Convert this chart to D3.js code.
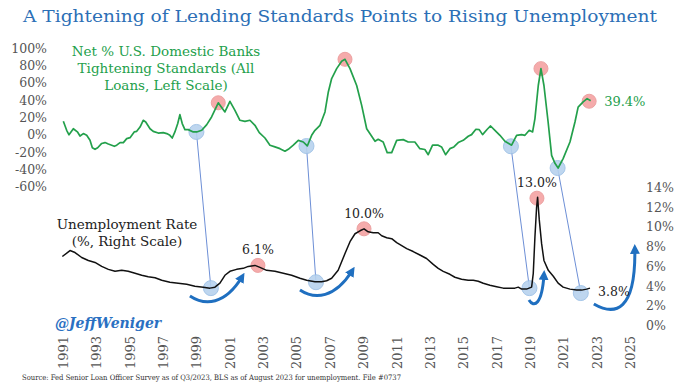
<!DOCTYPE html>
<html><head><meta charset="utf-8">
<script src="https://cdn.jsdelivr.net/npm/d3@7"></script>
<style>
body{margin:0;background:#fff;}
svg{display:block;}
</style></head>
<body>
<svg id="chart" width="680" height="383"></svg>
<script>
// ---- data (x in chart years, as plotted) ----
const tightening = [
[1991.02,15.6],[1991.22,5.2],[1991.36,0],[1991.62,7],[1991.88,3],[1992.02,-1.4],[1992.22,1.4],[1992.42,-0.6],
[1992.62,-6.4],[1992.76,-15],[1992.92,-16.8],[1993.08,-15],[1993.32,-10],[1993.52,-9],[1993.72,-10.6],[1993.92,-12],
[1994.08,-13.3],[1994.22,-12],[1994.42,-9],[1994.62,-9],[1994.82,-4.4],[1995.02,-3.3],[1995.27,3.3],[1995.42,4],
[1995.62,9],[1995.81,16.8],[1995.96,14.8],[1996.22,7],[1996.41,4],[1996.71,2],[1997.01,2.5],[1997.22,1.4],
[1997.41,-0.6],[1997.55,-3.7],[1997.71,3.3],[1997.88,13],[1998.01,23.3],[1998.15,13],[1998.31,6],[1998.51,6],
[1998.81,3.3],[1999.02,3.3],[1999.32,5.2],[1999.62,11.8],[1999.91,20.6],[2000.31,37],[2000.71,26.4],[2001.01,38.7],
[2001.31,28.3],[2001.61,16.8],[2001.91,15.6],[2002.21,16.8],[2002.51,11],[2002.77,2.5],[2003.11,-3.7],[2003.41,-12],
[2003.71,-14],[2004.01,-16],[2004.31,-19],[2004.51,-16.8],[2004.81,-12],[2005.11,-6.4],[2005.41,-8.3],[2005.65,-12.9],
[2005.91,-0.6],[2006.11,5.2],[2006.41,11],[2006.71,26.4],[2006.91,49.5],[2007.11,65],[2007.41,76.5],[2007.71,85],
[2007.91,87.3],[2008.21,76.5],[2008.61,57],[2008.91,34],[2009.21,7],[2009.71,-7.5],[2009.90,-5.2],[2010.20,-8.3],
[2010.44,-20.6],[2010.71,-20.6],[2011.01,-6.4],[2011.40,-5.6],[2011.70,-8.3],[2012.10,-8.3],[2012.40,-16],[2012.70,-17],
[2012.90,-23],[2013.16,-12],[2013.50,-12],[2013.70,-14],[2013.94,-23],[2014.20,-16],[2014.44,-14],[2014.70,-9],
[2015.00,-6.4],[2015.30,-1.7],[2015.50,0.2],[2015.76,6.4],[2015.96,6],[2016.16,0.2],[2016.44,6.4],[2016.64,10.2],
[2016.90,5.2],[2017.20,-0.6],[2017.50,-7.5],[2017.90,-12],[2018.20,-0.6],[2018.50,0.2],[2018.70,-0.6],[2018.96,5.2],
[2019.16,3.3],[2019.30,18.7],[2019.50,57],[2019.66,76.5],[2019.84,57],[2020.09,14.8],[2020.30,-23.7],[2020.50,-33],
[2020.69,-38.4],[2020.99,-27.5],[2021.40,-8.3],[2021.70,14.8],[2021.89,32],[2022.19,38],[2022.43,41.8],[2022.64,39.4]
];
const unemployment = [
[1990.96,7.0],[1991.42,7.6],[1991.72,7.4],[1992.12,6.9],[1992.52,6.6],[1992.92,6.4],[1993.32,6.0],[1993.72,5.7],
[1994.12,5.5],[1994.52,5.6],[1994.91,5.5],[1995.32,5.3],[1995.72,5.1],[1996.11,4.95],[1996.52,4.85],[1996.92,4.6],
[1997.41,4.4],[1997.91,4.3],[1998.42,4.2],[1998.91,4.0],[1999.41,3.9],[1999.81,3.8],[2000.11,3.9],[2000.41,4.3],
[2000.71,5.1],[2001.01,5.5],[2001.41,5.7],[2001.81,5.8],[2002.11,6.0],[2002.51,6.1],[2002.81,5.9],[2003.21,5.6],
[2003.71,5.5],[2004.21,5.3],[2004.71,5.1],[2005.21,4.8],[2005.61,4.6],[2006.11,4.45],[2006.51,4.45],[2006.81,4.55],
[2007.11,4.8],[2007.50,5.6],[2007.91,7.3],[2008.21,8.5],[2008.51,9.3],[2008.81,9.6],[2009.05,9.8],[2009.30,9.5],
[2009.60,9.4],[2009.90,9.4],[2010.11,9.1],[2010.41,8.9],[2010.71,8.8],[2011.01,8.4],[2011.31,8.1],[2011.61,7.8],
[2012.00,7.5],[2012.40,7.15],[2012.80,6.8],[2013.20,6.2],[2013.50,5.8],[2013.80,5.5],[2014.20,5.2],[2014.50,4.9],
[2014.90,4.7],[2015.30,4.6],[2015.60,4.6],[2015.90,4.5],[2016.20,4.3],[2016.60,4.1],[2017.00,3.95],[2017.40,3.8],
[2017.80,3.8],[2018.10,3.8],[2018.30,3.9],[2018.50,3.7],[2018.80,3.7],[2019.10,3.9],[2019.20,5.3],[2019.30,9.0],
[2019.40,12.0],[2019.46,13.0],[2019.56,10.7],[2019.70,8.3],[2019.84,6.6],[2020.10,5.6],[2020.40,5.0],[2020.69,4.3],
[2020.99,3.9],[2021.40,3.7],[2021.80,3.6],[2022.10,3.6],[2022.40,3.7],[2022.60,3.8]
];
const yearTicks = d3.range(1991, 2026, 2);
const leftTicks = [-60,-40,-20,0,20,40,60,80,100];
const rightTicks = [0,2,4,6,8,10,12,14];

// annotations
const greenPeaks = [[2000.31,37],[2007.91,87.3],[2019.66,76.5],[2022.55,38.8]];
const unempPeaks = [[2002.69,6.1,"6.1%"],[2009.05,9.8,"10.0%"],[2019.42,12.9,"13.0%"]];
const greenTroughs = [[1999.0,3.3],[2005.6,-13],[2017.86,-13.3],[2020.66,-38.4]];
const unempTroughs = [[1999.87,3.8],[2006.17,4.4],[2018.97,3.8],[2022.05,3.3]];
const arrows = [
  [[1998.61,3.0],[1999.51,2.0],[2000.71,2.09],[2001.73,4.92]],
  [[2005.21,3.61],[2006.11,2.6],[2007.31,2.8],[2008.33,5.53]],
  [[2018.94,2.6],[2019.24,1.79],[2019.72,2.09],[2019.84,5.13]],
  [[2022.83,2.2],[2024.09,0.98],[2025.35,1.39],[2025.29,7.76]]
];

const svg = d3.select("#chart");
const serif = "'DejaVu Serif', serif";
const GREEN = "#23a04b", BLUE = "#1f6fc0", TITLE = "#2c6fb6", GREY = "#555";

const x = d3.scaleLinear().domain([1991, 2025]).range([63, 630]);
const yL = d3.scaleLinear().domain([-60, 100]).range([186.7, 48.3]);
const yR = d3.scaleLinear().domain([0, 14]).range([325.7, 187.3]);

// title
svg.append("text").attr("x", 340).attr("y", 22).attr("text-anchor", "middle")
  .attr("font-family", serif).attr("font-size", 17.5).attr("fill", TITLE)
  .attr("textLength", 634).attr("lengthAdjust", "spacingAndGlyphs")
  .text("A Tightening of Lending Standards Points to Rising Unemployment");

// left axis
const gL = svg.append("g").attr("transform", "translate(47,0)")
  .call(d3.axisLeft(yL).tickValues(leftTicks).tickSize(0).tickPadding(0).tickFormat(d => d + "%"));
gL.select(".domain").remove();
gL.selectAll("text").attr("font-family", serif).attr("font-size", 12.5).attr("fill", GREY);

// right axis
const gR = svg.append("g").attr("transform", "translate(646,0)")
  .call(d3.axisRight(yR).tickValues(rightTicks).tickSize(0).tickPadding(0).tickFormat(d => d + "%"));
gR.select(".domain").remove();
gR.selectAll("text").attr("font-family", serif).attr("font-size", 12.5).attr("fill", GREY);

// x axis (rotated labels)
const gX = svg.append("g").attr("transform", "translate(0,336)")
  .call(d3.axisBottom(x).tickValues(yearTicks).tickSize(0).tickFormat(d3.format("d")));
gX.select(".domain").remove();
gX.selectAll("text").attr("font-family", serif).attr("font-size", 13).attr("fill", GREY)
  .attr("y", 0).attr("dy", null).attr("dominant-baseline", "central")
  .attr("text-anchor", "end").attr("transform", "rotate(-90)");

// connectors
svg.append("g").selectAll("line").data(greenTroughs).join("line")
  .attr("x1", d => x(d[0])).attr("y1", d => yL(d[1]))
  .attr("x2", (d, i) => x(unempTroughs[i][0])).attr("y2", (d, i) => yR(unempTroughs[i][1]))
  .attr("stroke", "#6d8fd6").attr("stroke-width", 1);

// circles
const circ = svg.append("g");
circ.selectAll(".gp").data(greenPeaks).join("circle").attr("class","gp")
  .attr("cx", d => x(d[0])).attr("cy", d => yL(d[1])).attr("r", 7)
  .attr("fill", "#f4a3a3").attr("stroke", "#eb9898").attr("opacity", 0.9);
circ.selectAll(".up").data(unempPeaks).join("circle").attr("class","up")
  .attr("cx", d => x(d[0])).attr("cy", d => yR(d[1])).attr("r", 7)
  .attr("fill", "#f4a3a3").attr("stroke", "#eb9898").attr("opacity", 0.9);
circ.selectAll(".gt").data(greenTroughs).join("circle").attr("class","gt")
  .attr("cx", d => x(d[0])).attr("cy", d => yL(d[1])).attr("r", 7.5)
  .attr("fill", "#b7d2ee").attr("stroke", "#9cc0e6").attr("opacity", 0.9);
circ.selectAll(".ut").data(unempTroughs).join("circle").attr("class","ut")
  .attr("cx", d => x(d[0])).attr("cy", d => yR(d[1])).attr("r", 7.5)
  .attr("fill", "#b7d2ee").attr("stroke", "#9cc0e6").attr("opacity", 0.9);

// lines
svg.append("path").datum(tightening)
  .attr("d", d3.line().x(d => x(d[0])).y(d => yL(d[1])))
  .attr("fill", "none").attr("stroke", GREEN).attr("stroke-width", 1.7).attr("stroke-linejoin", "round");
svg.append("path").datum(unemployment)
  .attr("d", d3.line().x(d => x(d[0])).y(d => yR(d[1])))
  .attr("fill", "none").attr("stroke", "#111").attr("stroke-width", 1.5).attr("stroke-linejoin", "round");

// arrows
svg.append("defs").append("marker").attr("id", "ah")
  .attr("viewBox", "0 0 10 10").attr("refX", 5).attr("refY", 5)
  .attr("markerWidth", 3.3).attr("markerHeight", 3.3).attr("orient", "auto")
  .append("path").attr("d", "M0,0 L10,5 L0,10 Z").attr("fill", BLUE);
svg.append("g").selectAll("path").data(arrows).join("path")
  .attr("d", a => {
    const p = a.map(d => [x(d[0]), yR(d[1])]);
    return `M${p[0]}C${p[1]} ${p[2]} ${p[3]}`;
  })
  .attr("fill", "none").attr("stroke", BLUE).attr("stroke-width", 3).attr("marker-end", "url(#ah)");

// labels
const green = svg.append("g").attr("font-family", serif).attr("font-size", 13.5).attr("fill", GREEN).attr("text-anchor", "middle");
["Net % U.S. Domestic Banks", "Tightening Standards (All", "Loans, Left Scale)"].forEach((t, i) =>
  green.append("text").attr("x", 166).attr("y", 55.5 + i * 17).text(t));
svg.append("text").attr("x", x(greenPeaks[3][0]) + 15).attr("y", yL(greenPeaks[3][1]) + 5)
  .attr("font-family", serif).attr("font-size", 13).attr("fill", GREEN).text("39.4%");

const blk = svg.append("g").attr("font-family", serif).attr("font-size", 13.5).attr("fill", "#222").attr("text-anchor", "middle");
blk.append("text").attr("x", 127).attr("y", 229).text("Unemployment Rate");
blk.append("text").attr("x", 127).attr("y", 246).text("(%, Right Scale)");

svg.append("g").selectAll("text").data(unempPeaks).join("text")
  .attr("x", d => x(d[0])).attr("y", d => yR(d[1]) - 11)
  .attr("text-anchor", "middle").attr("font-family", serif).attr("font-size", 12.5).attr("fill", "#222")
  .text(d => d[2]);
svg.append("text").attr("x", 598).attr("y", 296).attr("font-family", serif).attr("font-size", 12.5)
  .attr("fill", "#222").text("3.8%");

svg.append("text").attr("x", 55).attr("y", 328).attr("font-family", serif).attr("font-size", 14)
  .attr("font-weight", "bold").attr("font-style", "italic").attr("fill", "#2a70c2").text("@JeffWeniger");

svg.append("text").attr("x", 22).attr("y", 380).attr("font-family", serif).attr("font-size", 7.5)
  .attr("fill", "#333").attr("textLength", 379).attr("lengthAdjust", "spacingAndGlyphs")
  .text("Source: Fed Senior Loan Officer Survey as of Q3/2023, BLS as of August 2023 for unemployment. File #0737");
</script>
</body></html>
